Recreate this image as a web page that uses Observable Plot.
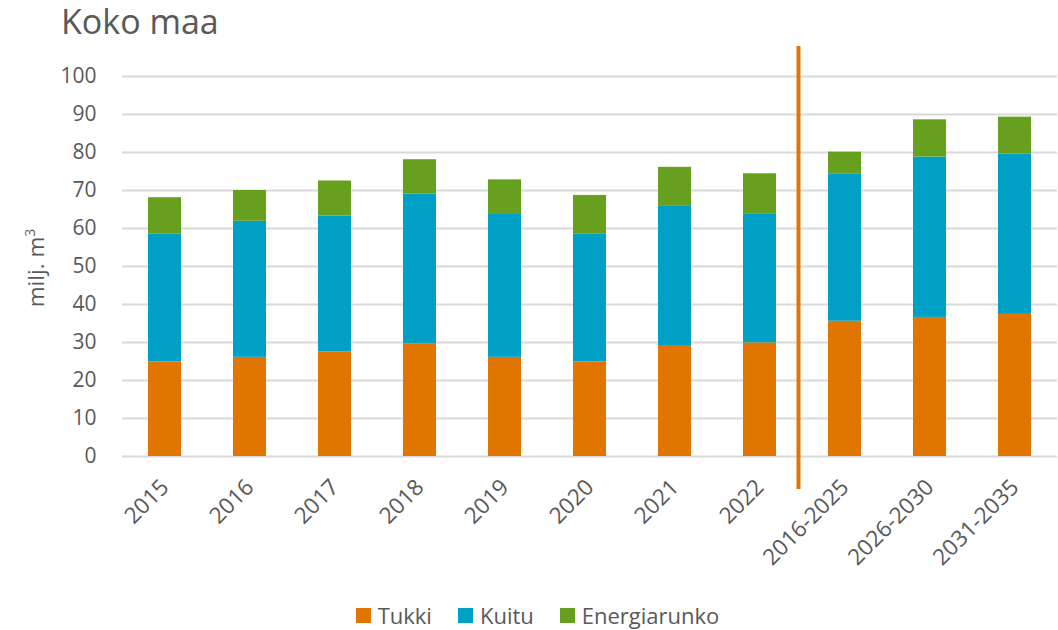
<!DOCTYPE html>
<html>
<head>
<meta charset="utf-8">
<script src="https://cdn.jsdelivr.net/npm/d3@7"></script>
<script src="https://cdn.jsdelivr.net/npm/@observablehq/plot@0.6"></script>
<style>
  html, body { margin: 0; padding: 0; background: #fff; }
  body { width: 1058px; height: 630px; position: relative; overflow: hidden; font-family: "Open Sans", sans-serif; color: #595959; }
  #title { position: absolute; left: 61px; top: -2px; font-size: 34px; color: #595959; }
  #chart { position: absolute; left: 0; top: 0; }
  #ylabel { position: absolute; left: 35px; top: 268px; transform: translate(-50%, -50%) rotate(-90deg); font-size: 22.5px; white-space: nowrap; }
  #legend { position: absolute; top: 600px; left: 0; width: 1058px; display: flex; justify-content: center; font-size: 22px; padding-left: 17px; box-sizing: border-box; }
  .item { display: flex; align-items: center; margin: 0 13px; }
  .sw { width: 15px; height: 15px; margin-right: 7px; }
</style>
</head>
<body>
<div id="chart"></div>
<div id="title">Koko maa</div>
<div id="ylabel">milj. m<sup style="font-size:14px; vertical-align: 9px;">3</sup></div>
<div id="legend"></div>
<script>
const categories = ["2015","2016","2017","2018","2019","2020","2021","2022","2016-2025","2026-2030","2031-2035"];
const seriesNames = ["Tukki","Kuitu","Energiarunko"];
const tukki        = [24.9, 26.1, 27.5, 29.6, 26.1, 24.9, 29.2, 29.9, 35.6, 36.6, 37.4];
const kuitu        = [33.7, 35.8, 35.8, 39.5, 37.6, 33.7, 36.8, 34.0, 38.8, 42.2, 42.2];
const energiarunko = [ 9.5,  8.1,  9.2,  9.0,  9.1, 10.1, 10.1, 10.5,  5.7,  9.8,  9.7];
const yTicks = [0,10,20,30,40,50,60,70,80,90,100];
const dividerBefore = ["2016-2025"];
const colors = ["#E07500", "#00A0C6", "#66A01E"];

const seriesValues = [tukki, kuitu, energiarunko];
const data = [];
categories.forEach((c, i) => {
  seriesNames.forEach((s, j) => data.push({ period: c, series: s, value: seriesValues[j][i] }));
});

const chart = Plot.plot({
  width: 1058,
  height: 590,
  marginLeft: 122,
  marginRight: 1,
  marginTop: 76,
  marginBottom: 134,
  style: { fontFamily: "Open Sans, sans-serif", fontSize: "21px", color: "#595959", background: "transparent" },
  x: { type: "band", domain: categories, paddingInner: 0.61, paddingOuter: 0.305, label: null },
  y: { domain: [0, 100], label: null },
  color: { domain: seriesNames, range: colors },
  marks: [
    Plot.ruleY(yTicks, { stroke: "#d9d9d9", strokeWidth: 2 }),
    Plot.barY(data, { x: "period", y: "value", fill: "series", order: seriesNames }),
    Plot.ruleX(dividerBefore, { x: d => d, dx: -46.5, stroke: "#E07500", strokeWidth: 4, insetTop: -30, insetBottom: -33 }),
    Plot.axisY({ ticks: yTicks, tickSize: 0, tickPadding: 26, label: null, fill: "#595959" }),
    Plot.axisX({ tickSize: 0, tickRotate: -45, tickPadding: 27, label: null, fill: "#595959", fontSize: 22.5 })
  ]
});
document.getElementById("chart").appendChild(chart);

const legend = document.getElementById("legend");
seriesNames.forEach((s, j) => {
  const it = document.createElement("div");
  it.className = "item";
  it.innerHTML = `<div class="sw" style="background:${colors[j]}"></div><span>${s}</span>`;
  legend.appendChild(it);
});
</script>
</body>
</html>
